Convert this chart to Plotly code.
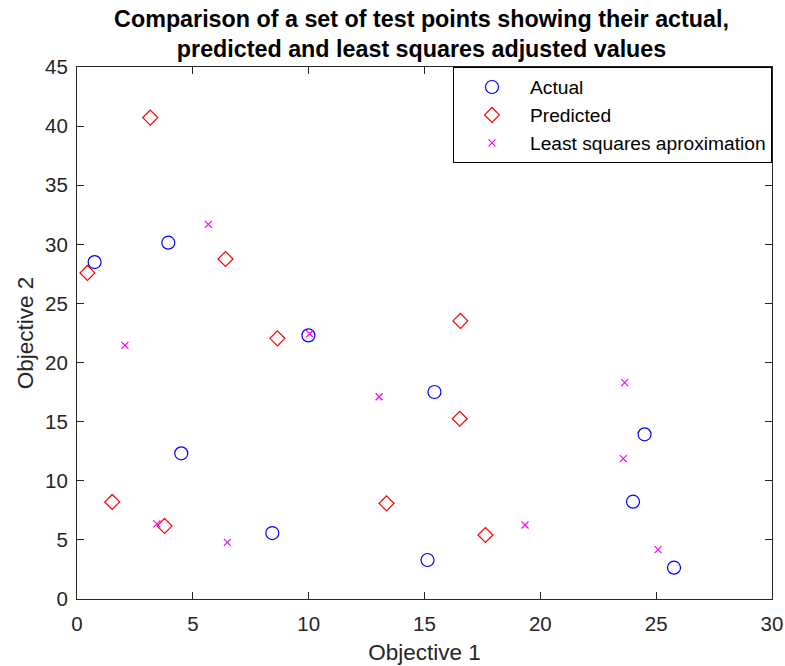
import plotly.graph_objects as go

# Test points: actual values
actual_x = [0.76, 3.94, 4.50, 8.43, 9.99, 15.43, 15.13, 24.00, 24.50, 25.77]
actual_y = [28.50, 30.14, 12.32, 5.58, 22.30, 17.51, 3.30, 8.23, 13.93, 2.65]

# Model predictions
pred_x = [3.16, 0.45, 6.41, 8.65, 16.55, 16.52, 1.52, 3.78, 13.36, 17.63]
pred_y = [40.72, 27.58, 28.76, 22.05, 23.52, 15.25, 8.21, 6.18, 8.09, 5.41]

# Least squares adjusted values
ls_x = [5.67, 2.07, 3.45, 6.49, 10.04, 13.04, 19.34, 23.64, 23.58, 25.08]
ls_y = [31.69, 21.46, 6.35, 4.79, 22.44, 17.11, 6.26, 18.30, 11.87, 4.17]

x_ticks = [0, 5, 10, 15, 20, 25, 30]
y_ticks = [0, 5, 10, 15, 20, 25, 30, 35, 40, 45]

FONT = "Liberation Sans, Arial, sans-serif"
AXIS_COLOR = "#262626"

fig = go.Figure()
fig.add_trace(go.Scatter(
    x=actual_x, y=actual_y, mode="markers", name="Actual", legendgroup="a",
    marker=dict(symbol="circle-open", size=13, color="#0000ff",
                line=dict(color="#0000ff", width=1.2)),
))
fig.add_trace(go.Scatter(
    x=pred_x, y=pred_y, mode="markers", name="Predicted", legendgroup="p",
    marker=dict(symbol="diamond-open", size=11.5, color="#ff0000",
                line=dict(color="#ff0000", width=1.2)),
))
fig.add_trace(go.Scatter(
    x=ls_x, y=ls_y, mode="markers", name="Least squares aproximation", legendgroup="l",
    marker=dict(symbol="x-thin", size=7, color="#ff00ff",
                line=dict(color="#ff00ff", width=1.2)),
))

axis_common = dict(
    showgrid=False, zeroline=False, showline=True, linecolor=AXIS_COLOR,
    linewidth=1, mirror="ticks", ticks="inside", ticklen=7, tickcolor=AXIS_COLOR,
    tickfont=dict(family=FONT, size=20.5, color=AXIS_COLOR), automargin=False,
)

fig.update_layout(
    width=785, height=666,
    margin=dict(l=77, r=13, t=67, b=67),
    paper_bgcolor="white", plot_bgcolor="white",
    title=dict(
        text="Comparison of a set of test points showing their actual,<br>"
             "predicted and least squares adjusted values",
        x=0.537, xanchor="center", y=0.96, yanchor="middle",
        font=dict(family=FONT, size=23.3, color="black", weight="bold"),
    ),
    xaxis=dict(range=[0, 30], tickvals=x_ticks, ticklabelstandoff=6,
               title=dict(text="Objective 1", standoff=10,
                          font=dict(family=FONT, size=22.5, color=AXIS_COLOR)),
               **axis_common),
    yaxis=dict(range=[0, 45], tickvals=y_ticks, ticklabelstandoff=4,
               title=dict(text="Objective 2", standoff=5,
                          font=dict(family=FONT, size=22.5, color=AXIS_COLOR)),
               **axis_common),
    legend=dict(
        x=1, y=1, xanchor="right", yanchor="top",
        bgcolor="white", bordercolor="black", borderwidth=1,
        font=dict(family=FONT, size=19.2, color="black"),
        tracegroupgap=0, itemwidth=66,
    ),
    showlegend=True,
)

fig.write_html("out.html")
